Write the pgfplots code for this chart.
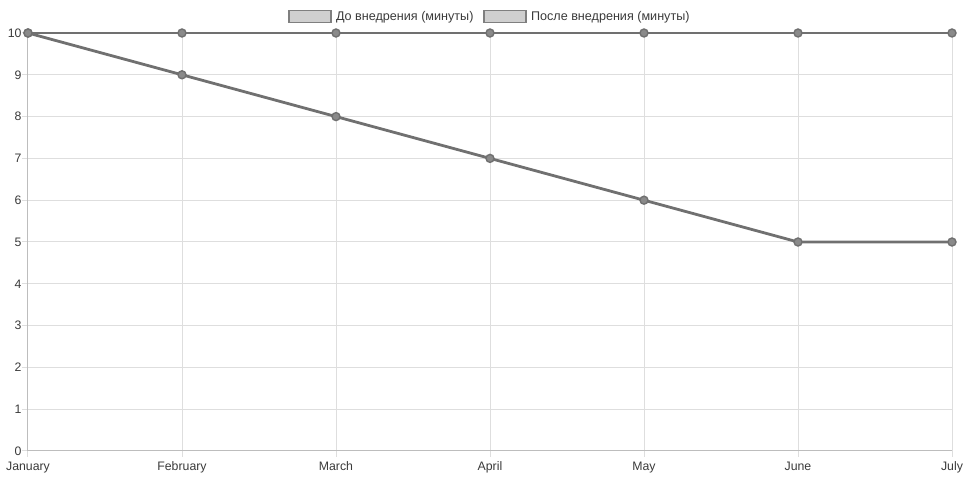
\documentclass[border=0pt]{standalone}
\usepackage{pgfplots}
\pgfplotsset{compat=1.18}
\usepackage{fontspec}
\setmainfont{Liberation Sans}
\definecolor{linegray}{HTML}{707070}
\definecolor{markgray}{HTML}{8A8A8A}
\definecolor{gridgray}{HTML}{DEDEDE}
\definecolor{axisgray}{HTML}{BDBDBD}
\definecolor{labelgray}{HTML}{3A3A3A}
\definecolor{legfill}{HTML}{CFCFCF}
\definecolor{legdraw}{HTML}{7F7F7F}

\begin{document}
\begin{tikzpicture}
\path[use as bounding box] (0,0) rectangle (970pt,484pt);
\begin{axis}[
  at={(28pt,33pt)}, anchor=south west,
  width=924pt, height=418pt, scale only axis,
  xmin=0, xmax=6, ymin=0, ymax=10,
  axis lines*=left,
  axis line style={draw=axisgray, line width=1pt, -},
  xtick={0,...,6},
  xticklabels={January,February,March,April,May,June,July},
  ytick={0,...,10},
  grid=major,
  grid style={draw=gridgray, line width=1pt},
  tick style={draw=gridgray, line width=1pt},
  tick align=outside,
  major tick length=6pt,
  /pgf/number format/assume math mode=true,
  ticklabel style={font=\fontsize{12.3}{14}\selectfont, text=labelgray},
  xticklabel style={anchor=north, text height=9pt, text depth=3pt, yshift=-1pt},
  yticklabel style={xshift=3pt},
  clip=false,
  legend columns=2,
  legend style={at={(axis description cs:0.5,1)}, anchor=south, yshift=7pt,
    draw=none, fill=none, font=\fontsize{12.6}{14}\selectfont, text=labelgray,
    /tikz/every even column/.append style={column sep=8pt},
    /tikz/every odd column/.append style={column sep=2pt}},
  legend image code/.code={
    \draw[fill=legfill, draw=legdraw, line width=1.6pt] (-2pt,-6pt) rectangle (40pt,6pt);
  },
]
\addplot[draw=linegray, line width=2.8pt, mark=*, mark size=4pt,
  mark options={fill=markgray, draw=linegray, line width=1.4pt}]
  coordinates {(0,10) (1,10) (2,10) (3,10) (4,10) (5,10) (6,10)};
\addlegendentry{До внедрения (минуты)}
\addplot[draw=linegray, line width=2.8pt, mark=*, mark size=4pt,
  mark options={fill=markgray, draw=linegray, line width=1.4pt}]
  coordinates {(0,10) (1,9) (2,8) (3,7) (4,6) (5,5) (6,5)};
\addlegendentry{После внедрения (минуты)}
\end{axis}
\end{tikzpicture}
\end{document}
